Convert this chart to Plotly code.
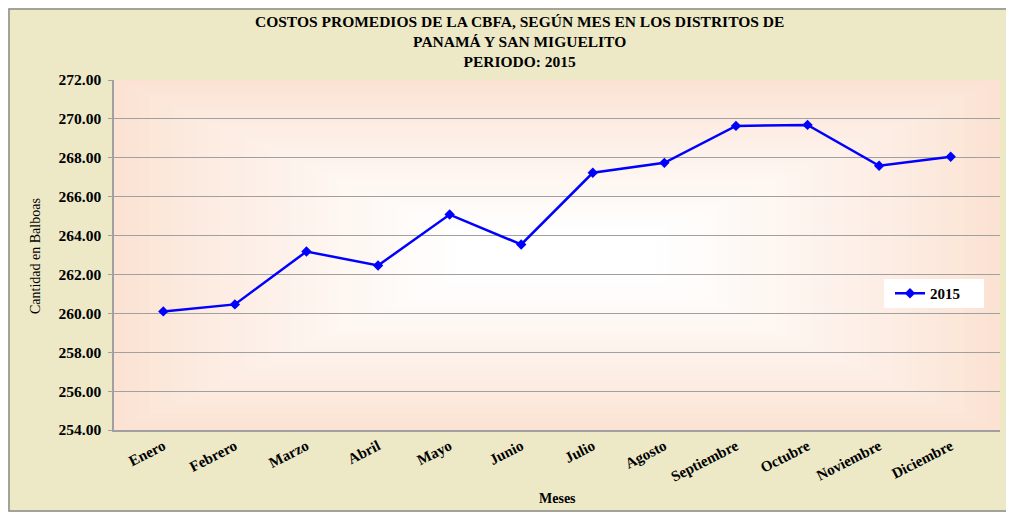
import plotly.graph_objects as go

meses = ["Enero", "Febrero", "Marzo", "Abril", "Mayo", "Junio", "Julio",
         "Agosto", "Septiembre", "Octubre", "Noviembre", "Diciembre"]
costos_2015 = [260.10, 260.46, 263.18, 262.46, 265.08, 263.54, 267.23,
               267.74, 269.64, 269.69, 267.59, 268.05]
y_ticks = [254, 256, 258, 260, 262, 264, 266, 268, 270, 272]
y_ticklabels = [f"{v:.2f}" for v in y_ticks]
title_lines = ["COSTOS PROMEDIOS DE LA CBFA, SEGÚN MES EN LOS DISTRITOS DE",
               "PANAMÁ Y SAN MIGUELITO",
               "PERIODO: 2015"]

serif = "Liberation Serif"

W, H = 1006, 504
L, T, R, B = 106, 72, 14, 82
PW, PH = W - L - R, H - T - B

def px_x(x):
    return (x - L) / PW

def px_y(y):
    return (H - B - y) / PH

fig = go.Figure()
fig.add_trace(go.Scatter(
    x=meses, y=costos_2015, name="2015", mode="lines+markers",
    line=dict(color="#0000FF", width=2.5),
    marker=dict(symbol="diamond", size=8, color="#0000FF"),
))

shapes = []
steps = 30
for i in range(steps):
    f = i / steps
    dx = 0.5 * f * 0.8
    dy = 0.5 * f * 0.9
    t = (i / (steps - 1)) ** 0.8
    r = 251 + (255 - 251) * t
    g = 226 + (255 - 226) * t
    b = 210 + (255 - 210) * t
    shapes.append(dict(type="rect", xref="paper", yref="paper",
                       x0=dx, x1=1 - dx, y0=dy, y1=1 - dy,
                       fillcolor=f"rgb({r:.0f},{g:.0f},{b:.0f})",
                       line=dict(width=0), layer="below"))
# outer border
shapes.append(dict(type="rect", xref="paper", yref="paper",
                   x0=px_x(1), x1=px_x(1000), y0=px_y(503), y1=px_y(1),
                   line=dict(color="#8C8C8C", width=1.5), layer="below"))
# legend box
shapes.append(dict(type="rect", xref="paper", yref="paper",
                   x0=px_x(876), x1=px_x(976), y0=px_y(300), y1=px_y(271),
                   fillcolor="white", line=dict(width=0), layer="above"))

annotations = []
annotations.append(dict(
    text="<br>".join(title_lines), xref="paper", yref="paper",
    x=px_x(511), y=px_y(33.5), xanchor="center", yanchor="middle",
    showarrow=False, align="center",
    font=dict(family=serif, size=15.5, color="black", weight="bold")))
annotations.append(dict(
    text="Cantidad en Balboas", xref="paper", yref="paper",
    x=px_x(27), y=px_y(248), xanchor="center", yanchor="middle",
    textangle=-90, showarrow=False,
    font=dict(family=serif, size=14, color="black")))
annotations.append(dict(
    text="Meses", xref="paper", yref="paper",
    x=px_x(549), y=px_y(490), xanchor="center", yanchor="middle",
    showarrow=False,
    font=dict(family=serif, size=14, color="black", weight="bold")))

fig.update_layout(
    width=W, height=H,
    margin=dict(l=L, r=R, t=T, b=B, autoexpand=False),
    paper_bgcolor="#EDE9C7",
    plot_bgcolor="#FFFFFF",
    shapes=shapes,
    annotations=annotations,
    showlegend=True,
    legend=dict(x=px_x(882), y=px_y(285.5), xanchor="left", yanchor="middle",
                bgcolor="rgba(0,0,0,0)", borderwidth=0, itemwidth=30,
                font=dict(family=serif, size=15, color="black", weight="bold")),
    xaxis=dict(
        showgrid=False, showline=True, linecolor="#A0A0A0", linewidth=1.5,
        tickangle=-27, ticks="", automargin=False,
        tickfont=dict(family=serif, size=15, color="black", weight="bold"),
    ),
    yaxis=dict(
        range=[254, 272], tickvals=y_ticks, ticktext=y_ticklabels,
        showgrid=True, gridcolor="#A0A0A0", gridwidth=1,
        showline=True, linecolor="#A0A0A0", linewidth=1.5,
        ticks="outside", ticklen=4, tickcolor="#A0A0A0", automargin=False,
        ticklabelstandoff=4,
        tickfont=dict(family=serif, size=15.5, color="black", weight="bold"),
    ),
)

fig.write_html("out.html")
